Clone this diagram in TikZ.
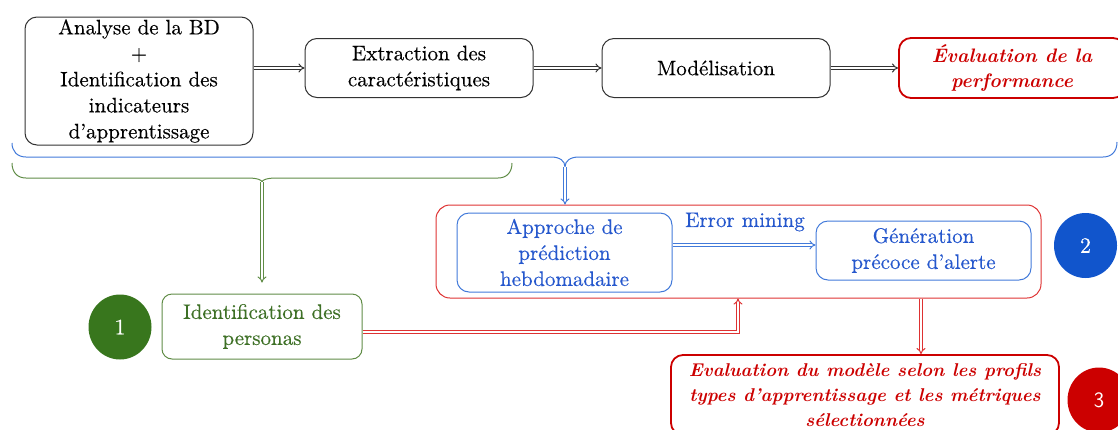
\documentclass[tikz,border=0pt]{standalone}
\usepackage{fontspec}
\setmainfont{lmroman10}[Extension=.otf, UprightFont=*-regular, BoldFont=*-bold, ItalicFont=*-italic, BoldItalicFont=*-bolditalic, UprightFeatures={FakeBold=0.35}]
\usetikzlibrary{arrows.meta,calc,shapes.geometric}
\definecolor{bline}{RGB}{66,122,218}
\definecolor{btext}{RGB}{38,88,205}
\definecolor{gline}{RGB}{96,140,70}
\definecolor{gtext}{RGB}{62,112,38}
\definecolor{gfill}{RGB}{56,118,29}
\definecolor{rline}{RGB}{222,50,50}
\definecolor{rdark}{RGB}{204,0,0}
\definecolor{bfill}{RGB}{17,85,204}
\definecolor{kline}{RGB}{50,50,50}
\begin{document}
\begin{tikzpicture}[x=1pt,y=-1pt,
  font=\fontsize{21}{26}\selectfont,
  box/.style={draw=kline, line width=1pt, rounded corners=12pt, align=center, inner sep=0pt},
  rbox/.style={draw=rdark, line width=1.8pt, rounded corners=12pt, align=center, inner sep=0pt, text=rdark},
  bbox/.style={draw=bline, line width=1pt, rounded corners=12pt, align=center, inner sep=0pt, text=btext},
  gbox/.style={draw=gline, line width=1pt, rounded corners=10pt, align=center, inner sep=0pt, text=gtext},
  num/.style={ellipse, minimum width=63pt, minimum height=65pt, inner sep=0pt, text=white, font=\fontsize{22}{26}\selectfont},
  dar/.style={draw=#1, double=white, double distance=2pt, line width=1pt, -{Implies}},
  brace/.style={draw=#1, line width=1pt}
]
\useasboundingbox (0,0) rectangle (1118,429);

% top row
\node[box, minimum width=228pt, minimum height=128pt] (A) at (139,81)
  {Analyse de la BD\\+\\Identification des\\indicateurs\\d’apprentissage};
\node[box, minimum width=228pt, minimum height=59pt] (B) at (419,68)
  {Extraction des\\caractéristiques};
\node[box, minimum width=228pt, minimum height=59pt] (C) at (716,68)
  {Modélisation};
\node[rbox, minimum width=226pt, minimum height=60pt, font=\fontsize{19.5}{25}\selectfont\bfseries\itshape] (D) at (1012,68)
  {Évaluation de la\\performance};

\draw[dar=kline] (A.east |- B.west) -- (B.west);
\draw[dar=kline] (B.east) -- (C.west);
\draw[dar=kline] (C.east) -- (D.west);

% braces
\coordinate (bt) at (565,167);
\coordinate (gt) at (262,182);
\draw[brace=bline] (12,143) .. controls (12,151) and (17,157) .. (26,157) -- (551,157)
  .. controls (560,157) and (565,161) .. (bt) .. controls (565,161) and (570,157) .. (579,157)
  -- (1103,157) .. controls (1112,157) and (1117,151) .. (1117,142);
\draw[brace=gline] (12,163) .. controls (12,172) and (17,178) .. (26,178) -- (248,178)
  .. controls (257,178) and (262,180) .. (gt) .. controls (262,180) and (267,178) .. (276,178)
  -- (498,178) .. controls (507,178) and (512,172) .. (512,163);

% container
\node[draw=rline, line width=1pt, rounded corners=14pt, minimum width=605pt, minimum height=93pt, inner sep=0pt] (cont) at (738.5,251.5) {};
\node[bbox, minimum width=215pt, minimum height=79pt] (ap) at (564.5,252.5)
  {Approche de\\prédiction\\hebdomadaire};
\node[bbox, minimum width=215pt, minimum height=59pt] (gen) at (923.5,250.5)
  {Génération\\précoce d’alerte};
\coordinate (em) at (0,245);
\draw[dar=bline] (ap.east |- em) -- (gen.west |- em);
\node[text=btext, inner sep=0pt] (eml) at (745,222) {Error mining};

\draw[dar=bline] (bt) -- (bt |- cont.north);

\node[num, fill=bfill] (n2) at (1085.5,245.5) {2};

% personas
\node[gbox, minimum width=200pt, minimum height=65pt] (pers) at (262,326.5)
  {Identification des\\personas};
\node[num, fill=gfill] (n1) at (120,327) {1};
\draw[dar=gline, shorten >=11pt] (gt) -- (pers.north -| gt);

\coordinate (rj) at (738,332);
\draw[dar=rline] (pers.east |- rj) -- (rj) -- (rj |- cont.south);

% evaluation
\node[rbox, minimum width=388pt, minimum height=80pt, font=\fontsize{18.5}{25}\selectfont\bfseries\itshape] (ev) at (865,395)
  {Evaluation du modèle selon les profils\\types d’apprentissage et les métriques\\sélectionnées};
\coordinate (rd) at (921,0);
\draw[dar=rline] (rd |- cont.south) -- (rd |- ev.north);

\node[num, fill=rdark, font=\fontsize{22}{26}\sffamily] (n3) at (1099,400) {3};
\end{tikzpicture}
\end{document}
